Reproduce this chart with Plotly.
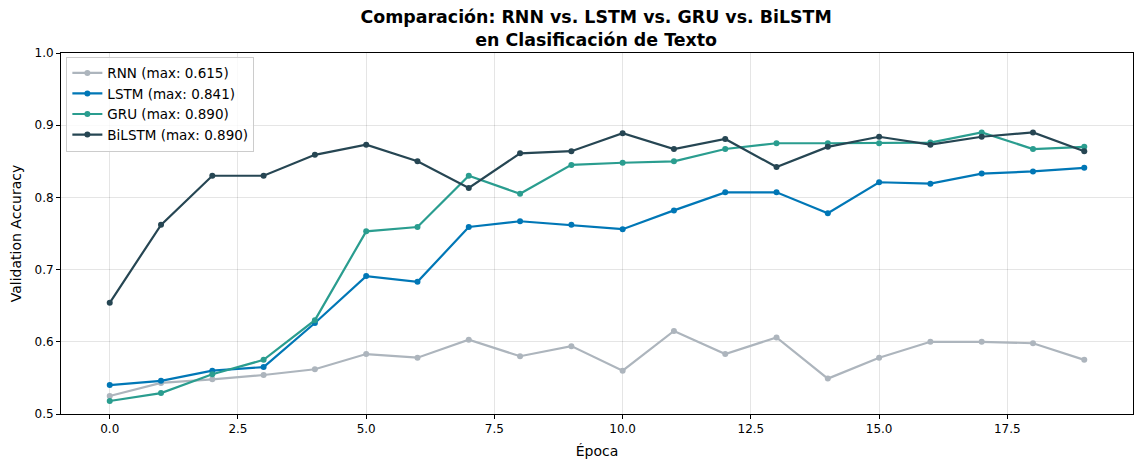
import plotly.graph_objects as go

epochs = list(range(20))
rnn = [0.525, 0.543, 0.548, 0.554, 0.562, 0.583, 0.578, 0.603, 0.580, 0.594,
       0.560, 0.615, 0.583, 0.606, 0.549, 0.578, 0.600, 0.600, 0.598, 0.575]
lstm = [0.540, 0.546, 0.560, 0.565, 0.626, 0.691, 0.683, 0.759, 0.767, 0.762,
        0.756, 0.782, 0.807, 0.807, 0.778, 0.821, 0.819, 0.833, 0.836, 0.841]
gru = [0.518, 0.529, 0.555, 0.575, 0.630, 0.753, 0.759, 0.830, 0.805, 0.845,
       0.848, 0.850, 0.867, 0.875, 0.875, 0.875, 0.876, 0.890, 0.867, 0.870]
bilstm = [0.654, 0.762, 0.830, 0.830, 0.859, 0.873, 0.850, 0.813, 0.861, 0.864,
          0.889, 0.867, 0.881, 0.842, 0.870, 0.884, 0.873, 0.884, 0.890, 0.864]

names = ["RNN", "LSTM", "GRU", "BiLSTM"]
series = [rnn, lstm, gru, bilstm]
colors = ["#adb5bd", "#0077b6", "#2a9d8f", "#264653"]

fig = go.Figure()
for n, s, c in zip(names, series, colors):
    fig.add_trace(go.Scatter(
        x=epochs, y=s, mode="lines+markers",
        name=f"{n} (max: {max(s):.3f})",
        line=dict(color=c, width=2.2),
        marker=dict(color=c, size=6),
    ))

font = "DejaVu Sans, sans-serif"
axis_common = dict(
    showline=True, linecolor="black", linewidth=1, mirror=True,
    ticks="outside", ticklen=4, tickcolor="black",
    showgrid=True, gridcolor="rgba(0,0,0,0.1)", gridwidth=1,
    zeroline=False, tickfont=dict(size=12, color="black", family=font),
    automargin=False,
)

fig.update_layout(
    width=1142, height=470,
    margin=dict(l=53, r=17, t=45, b=64),
    paper_bgcolor="white", plot_bgcolor="white",
    font=dict(family=font, color="black"),
    title=dict(
        text="<b>Comparación: RNN vs. LSTM vs. GRU vs. BiLSTM<br>en Clasificación de Texto</b>",
        x=0.515, xanchor="center", y=0.968, yanchor="top",
        font=dict(size=17.4, family=font, color="black"),
        automargin=False,
    ),
    xaxis=dict(
        range=[-0.95, 19.95], tickvals=[0, 2.5, 5, 7.5, 10, 12.5, 15, 17.5],
        ticktext=["0.0", "2.5", "5.0", "7.5", "10.0", "12.5", "15.0", "17.5"],
        title=dict(text="Época", font=dict(size=14, family=font), standoff=10),
        **axis_common,
    ),
    yaxis=dict(
        range=[0.5, 1.0], tickvals=[0.5, 0.6, 0.7, 0.8, 0.9, 1.0],
        ticktext=["0.5", "0.6", "0.7", "0.8", "0.9", "1.0"],
        title=dict(text="Validation Accuracy", font=dict(size=14, family=font), standoff=12),
        **axis_common,
    ),
    legend=dict(
        x=0.005, y=0.99, xanchor="left", yanchor="top",
        bgcolor="rgba(255,255,255,0.8)", bordercolor="#cccccc", borderwidth=1,
        font=dict(size=13.5, family=font), tracegroupgap=0, itemwidth=30,
    ),
)

fig.write_html("out.html")
